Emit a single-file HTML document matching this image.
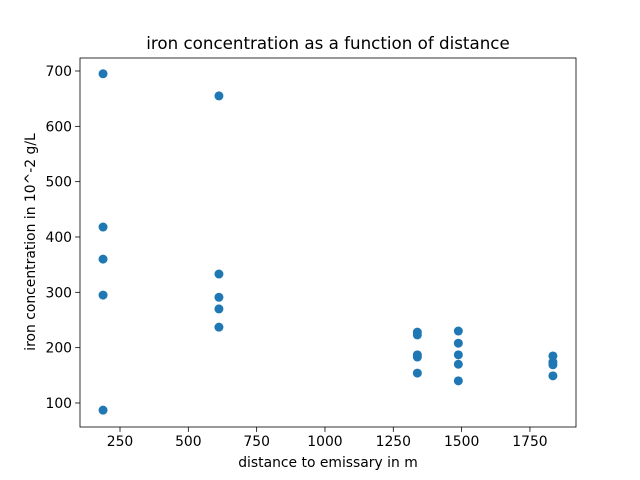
<!DOCTYPE html>
<html><head><meta charset="utf-8"><style>body{margin:0;background:#fff}svg{display:block;font-family:"DejaVu Sans","Liberation Sans",sans-serif}</style></head>
<body>
<svg id="chart" width="640" height="480" xmlns="http://www.w3.org/2000/svg"></svg>
<script>
const distances = [188,188,188,188,188, 612,612,612,612,612, 1338,1338,1338,1338,1338, 1488,1488,1488,1488,1488, 1834,1834,1834,1834];
const ironValues = [695,418,360,295,87, 655,333,291,270,237, 228,223,187,183,154, 230,208,187,170,140, 185,174,169,149];
const xTicks = [250,500,750,1000,1250,1500,1750];
const yTicks = [100,200,300,400,500,600,700];
const NS = "http://www.w3.org/2000/svg";
const svg = document.getElementById('chart');
const L=80,R=576,T=58,B=427;
const xs = v => 120 + (v-250)*0.2733;
const ys = v => 71 + (700-v)*0.5533;
function mk(tag, attrs, parent){const e=document.createElementNS(NS,tag);for(const k in attrs)e.setAttribute(k,attrs[k]);(parent||svg).appendChild(e);return e;}
const pts = mk('g',{});


distances.forEach((d,i)=>{
  const c = mk('circle',{cx:xs(d),cy:ys(ironValues[i]),r:4.5,fill:'#1f77b4'},pts);
  
  
});
const frame = mk('rect',{x:L,y:T,width:R-L,height:B-T,fill:'none',stroke:'#000','stroke-width':0.8});


xTicks.forEach(t=>{
  const x=xs(t);
  const l = mk('line',{x1:x,x2:x,y1:B,y2:B+4.9,stroke:'#000','stroke-width':0.8});
  
  
  const tx = mk('text',{x:x,y:B+19,'text-anchor':'middle','font-size':13.9});
  tx.textContent=t;
  
  
});
yTicks.forEach(t=>{
  const y=ys(t);
  const l = mk('line',{x1:L-4.9,x2:L,y1:y,y2:y,stroke:'#000','stroke-width':0.8});
  
  
  const tx = mk('text',{x:L-8,y:y+5,'text-anchor':'end','font-size':13.9});
  tx.textContent=t;
  
  
});
const xt = mk('text',{x:328,y:467,'text-anchor':'middle','font-size':13.9});
xt.textContent='distance to emissary in m';


const yt = mk('text',{x:35,y:242,'text-anchor':'middle','font-size':13.9,transform:'rotate(-90 35 242)'});
yt.textContent='iron concentration in 10^-2 g/L';


const ti = mk('text',{x:328,y:49,'text-anchor':'middle','font-size':16.7});
ti.textContent='iron concentration as a function of distance';


</script>
</body></html>
